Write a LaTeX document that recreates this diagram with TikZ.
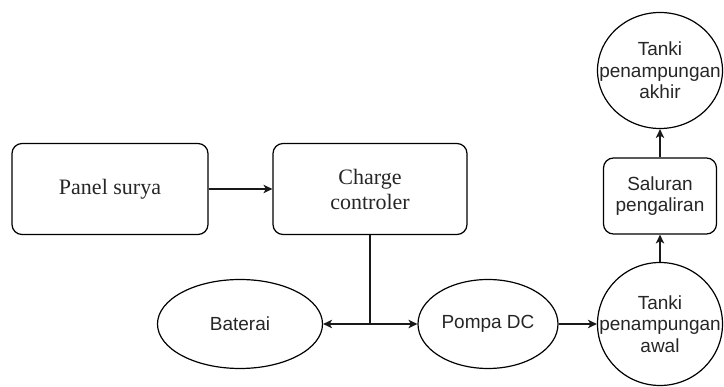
\documentclass[tikz,border=0pt]{standalone}
\usepackage{fontspec}
\setmainfont{Liberation Serif}
\setsansfont{Liberation Sans}
\usetikzlibrary{shapes.geometric,arrows.meta}
\tikzset{
  box/.style={draw, rounded corners=10pt, line width=1.2pt},
  oval/.style={draw, ellipse, line width=1.2pt, inner sep=0pt},
  serif/.style={font=\fontsize{22}{25}\selectfont\rmfamily, text=black!85, align=center},
  sans/.style={font=\fontsize{19}{21.5}\selectfont\sffamily, text=black!85, align=center},
  conn/.style={line width=1.2pt, draw=black!90},
  arr/.style={conn, -{Stealth[length=9pt,width=8.5pt,inset=2.5pt]}},
}
\begin{document}
\begin{tikzpicture}[x=1pt,y=-1pt]
\useasboundingbox (0,0) rectangle (724,387);
\node[box, serif, minimum width=196pt, minimum height=91pt] (ps) at (110,189) {Panel surya};
\node[box, serif, minimum width=194pt, minimum height=91pt] (cc) at (370,189) {Charge\\controler};
\node[oval, minimum width=165pt, minimum height=89pt, label={[sans]center:Baterai}] (bat) at (240,324) {};
\node[oval, minimum width=140pt, minimum height=89pt, label={[sans]center:Pompa DC}] (pump) at (488,324) {};
\node[oval, minimum width=125pt, minimum height=123pt, label={[sans]center:Tanki\\penampungan\\awal}] (awal) at (660,324) {};
\node[box, sans, minimum width=113pt, minimum height=76pt] (sal) at (660,196) {Saluran\\pengaliran};
\node[oval, minimum width=125pt, minimum height=116pt, label={[sans]center:Tanki\\penampungan\\akhir}] (akhir) at (660,70.5) {};
\coordinate (junc) at (cc.south |- bat.east);
\draw[arr] (ps) -- (cc);
\draw[conn] (cc.south) -- (junc);
\draw[arr] (junc) -- (bat.east);
\draw[arr] (junc) -- (pump.west);
\draw[arr] (pump.east) -- (awal.west);
\draw[arr] (awal.north) -- (sal.south);
\draw[arr] (sal.north) -- (akhir.south);
\end{tikzpicture}
\end{document}
